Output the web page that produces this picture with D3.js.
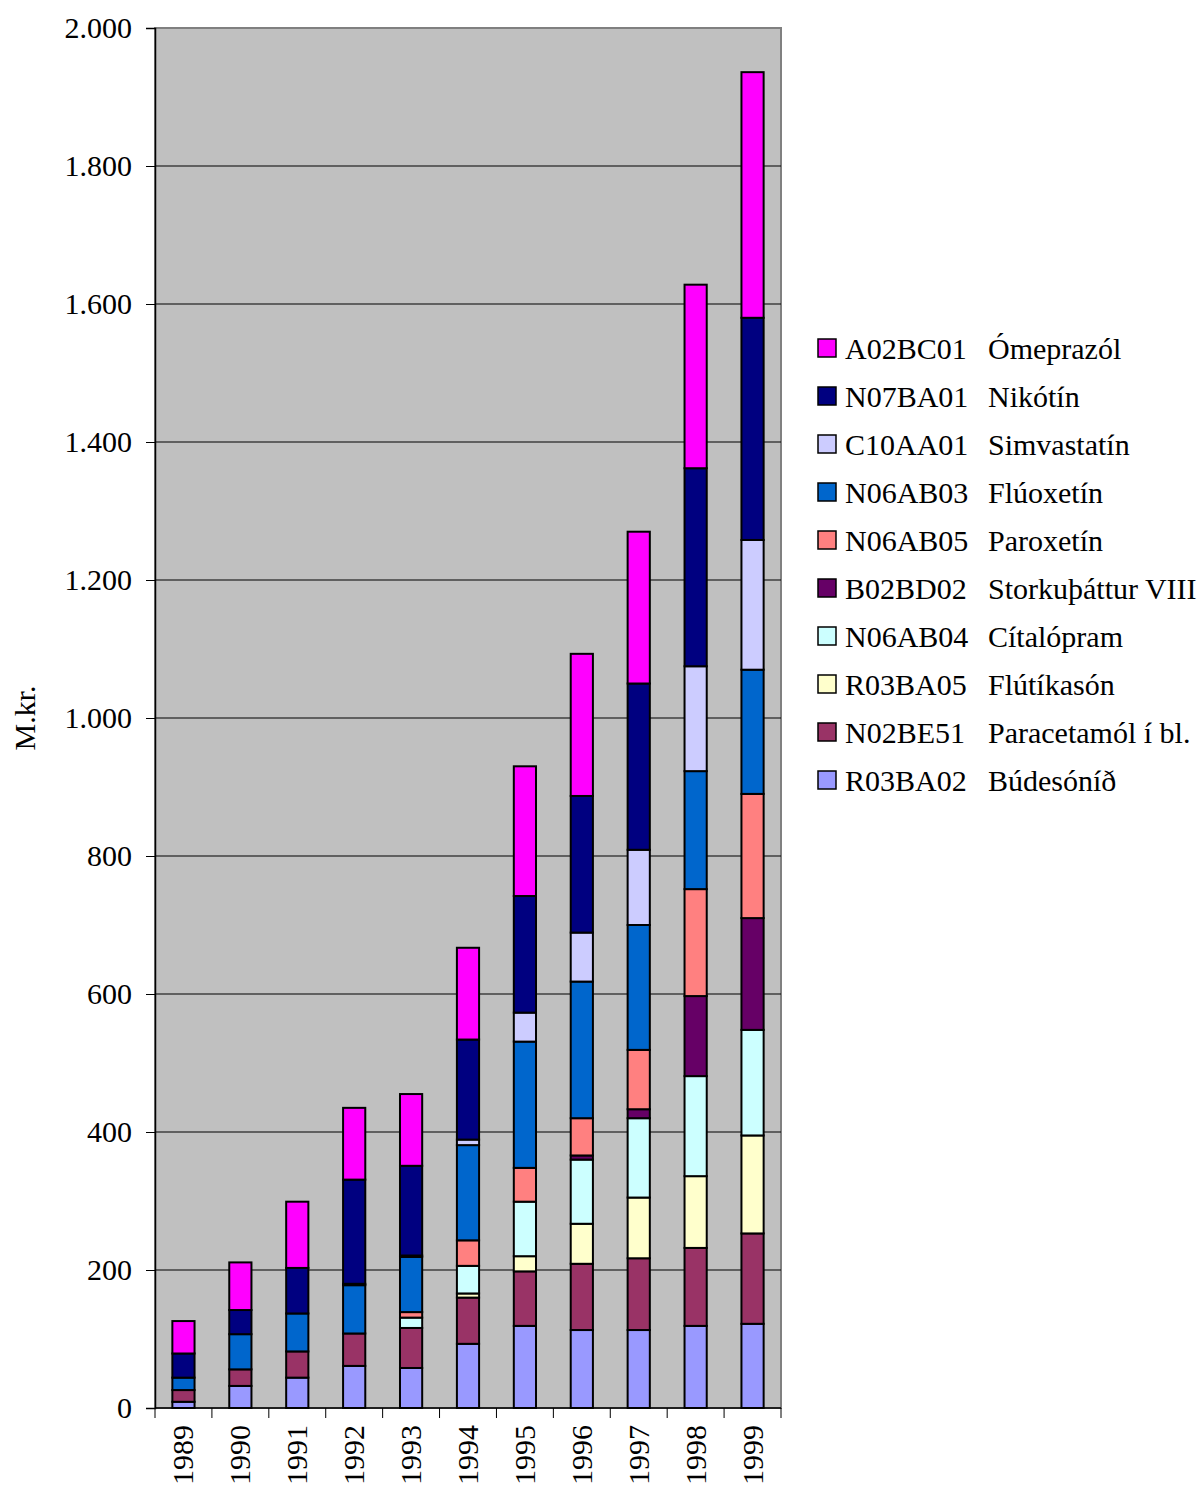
<!doctype html>
<html>
<head>
<meta charset="UTF-8">
<title>M.kr.</title>
<script src="https://cdn.jsdelivr.net/npm/d3@7"></script>
<style>
  body { margin: 0; background: #fff; }
  svg text { font-family: "Liberation Serif", "Times New Roman", serif; fill: #000; }
</style>
</head>
<body>
<svg id="chart" width="1203" height="1485"></svg>
<script>
// ár
var years = ["1989","1990","1991","1992","1993","1994","1995","1996","1997","1998","1999"];

// flokkar, neðst til efst
var codes = ["R03BA02","N02BE51","R03BA05","N06AB04","B02BD02","N06AB05","N06AB03","C10AA01","N07BA01","A02BC01"];
var names = ["Búdesóníð","Paracetamól í bl.","Flútíkasón","Cítalópram","Storkuþáttur VIII","Paroxetín","Flúoxetín","Simvastatín","Nikótín","Ómeprazól"];
var colors = ["#9999ff","#993366","#ffffcc","#ccffff","#660066","#ff8080","#0066cc","#ccccff","#000080","#ff00ff"];

// M.kr. á ári
var budesonid   = [9, 32, 44, 61, 58, 93, 119, 113, 113, 119, 122];
var paracetamol = [17, 24, 38, 47, 58, 67, 79, 96, 104, 113, 131];
var flutikason  = [0, 0, 0, 0, 0, 6, 22, 58, 88, 104, 142];
var citalopram  = [0, 0, 0, 0, 15, 40, 79, 93, 115, 145, 153];
var storku      = [0, 0, 0, 0, 0, 0, 0, 6, 13, 116, 162];
var paroxetin   = [0, 0, 0, 0, 8, 37, 49, 54, 86, 155, 180];
var fluoxetin   = [18, 51, 55, 70, 80, 138, 183, 198, 181, 171, 180];
var simvastatin = [0, 0, 0, 2, 2, 8, 42, 71, 109, 152, 188];
var nikotin     = [35, 35, 66, 151, 130, 145, 169, 198, 241, 287, 322];
var omeprazol   = [47, 69, 96, 104, 104, 133, 188, 206, 220, 266, 356];

var yTicks = [0, 200, 400, 600, 800, 1000, 1200, 1400, 1600, 1800, 2000];

var series = [budesonid, paracetamol, flutikason, citalopram, storku, paroxetin, fluoxetin, simvastatin, nikotin, omeprazol];

var rows = years.map(function(y, i) {
    var r = { year: y };
    codes.forEach(function(c, k) { r[c] = series[k][i]; });
    return r;
});

var svg = d3.select("#chart");
var pLeft = 155, pRight = 781, pTop = 28, pBottom = 1408;

var x = d3.scaleBand().domain(years).range([pLeft, pRight]).paddingInner(0.61).paddingOuter(0.305);
var y = d3.scaleLinear().domain([0, 2000]).range([pBottom, pTop]);

var is = d3.formatLocale({ decimal: ",", thousands: ".", grouping: [3], currency: ["", " kr."] });
var fmt = is.format(",d");

// bakgrunnur
svg.append("rect")
    .attr("x", pLeft).attr("y", pTop)
    .attr("width", pRight - pLeft).attr("height", pBottom - pTop)
    .attr("fill", "#c0c0c0")
    .attr("stroke", "#808080").attr("stroke-width", 2);

// hnitalínur
svg.append("g").selectAll("line")
    .data(yTicks.filter(function(d) { return d > 0 && d < 2000; }))
    .enter().append("line")
    .attr("x1", pLeft).attr("x2", pRight)
    .attr("y1", function(d) { return y(d); })
    .attr("y2", function(d) { return y(d); })
    .attr("stroke", "#000").attr("stroke-width", 1);

var stack = d3.stack().keys(codes);
var layers = stack(rows);

svg.append("g").selectAll("g")
    .data(layers)
    .enter().append("g")
    .attr("fill", function(d, i) { return colors[i]; })
    .selectAll("rect")
    .data(function(d) { return d.filter(function(p) { return p[1] - p[0] > 0; }); })
    .enter().append("rect")
    .attr("x", function(d) { return x(d.data.year); })
    .attr("width", x.bandwidth())
    .attr("y", function(d) { return y(d[1]); })
    .attr("height", function(d) { return y(d[0]) - y(d[1]); })
    .attr("stroke", "#000").attr("stroke-width", 2);

// y-ás
var yAxis = svg.append("g")
    .attr("transform", "translate(" + pLeft + ",0)")
    .call(d3.axisLeft(y).tickValues(yTicks).tickFormat(fmt).tickSize(9).tickPadding(14));
yAxis.select(".domain").attr("stroke", "#000").attr("stroke-width", 1.5);
yAxis.selectAll(".tick line").attr("stroke", "#000");
yAxis.selectAll("text").style("font-size", "30px").style("font-family", "Liberation Serif");

// x-ás
var xAxis = svg.append("g")
    .attr("transform", "translate(0," + pBottom + ")");
xAxis.append("line")
    .attr("x1", pLeft).attr("x2", pRight)
    .attr("stroke", "#000").attr("stroke-width", 1.5);
var edges = years.map(function(d) { return x(d) - x.step() * x.paddingInner() / 2; }).concat([pRight]);
xAxis.selectAll(".tk").data(edges).enter().append("line")
    .attr("x1", function(d) { return d; }).attr("x2", function(d) { return d; })
    .attr("y1", 0).attr("y2", 10)
    .attr("stroke", "#000");
xAxis.selectAll(".lbl").data(years).enter().append("text")
    .attr("transform", function(d) {
        return "translate(" + (x(d) + x.bandwidth() / 2 + 10) + ",17) rotate(-90)";
    })
    .attr("text-anchor", "end")
    .style("font-size", "30px")
    .text(function(d) { return d; });

// y-titill
svg.append("text")
    .attr("transform", "translate(35," + ((pTop + pBottom) / 2) + ") rotate(-90)")
    .attr("text-anchor", "middle")
    .style("font-size", "30px")
    .text("M.kr.");

// skýringar
var legend = svg.append("g").attr("transform", "translate(818,339)");
var li = legend.selectAll("g")
    .data(d3.range(codes.length).reverse())
    .enter().append("g")
    .attr("transform", function(d, i) { return "translate(0," + (i * 48) + ")"; });
li.append("rect")
    .attr("width", 18).attr("height", 18)
    .attr("fill", function(d) { return colors[d]; })
    .attr("stroke", "#000").attr("stroke-width", 1.5);
li.append("text")
    .attr("x", 27).attr("y", 20)
    .style("font-size", "30px")
    .text(function(d) { return codes[d]; });
li.append("text")
    .attr("x", 170).attr("y", 20)
    .style("font-size", "30px")
    .text(function(d) { return names[d]; });
</script>
</body>
</html>
